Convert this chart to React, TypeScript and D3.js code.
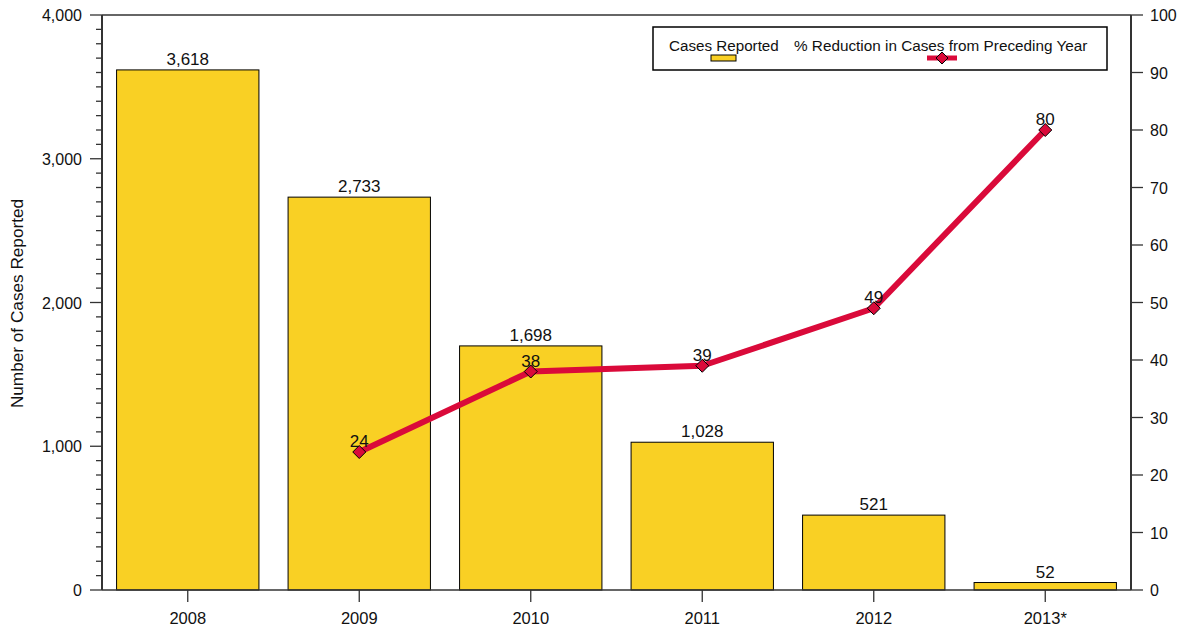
import React from "react";
import * as d3 from "d3";

const years = ["2008", "2009", "2010", "2011", "2012", "2013*"];
const cases = [3618, 2733, 1698, 1028, 521, 52];
const reductionYears = ["2009", "2010", "2011", "2012", "2013*"];
const reduction = [24, 38, 39, 49, 80];
const leftTicks = [0, 1000, 2000, 3000, 4000];
const rightTicks = [0, 10, 20, 30, 40, 50, 60, 70, 80, 90, 100];

const W = 1186, H = 634;
const M = { left: 102, right: 1131, top: 15, bottom: 590 };
const YELLOW = "#F9D024";
const RED = "#DA0A3A";
const AXIS = "#333";
const FONT = "'Liberation Sans', Arial, sans-serif";

export default function App() {
  const x = d3.scaleBand<string>().domain(years).range([M.left, M.right]).paddingInner(0.17).paddingOuter(0.085);
  const yL = d3.scaleLinear().domain([0, 4000]).range([M.bottom, M.top]);
  const yR = d3.scaleLinear().domain([0, 100]).range([M.bottom, M.top]);
  const cx = (k: string) => (x(k) as number) + x.bandwidth() / 2;
  const minor = d3.range(0, 4001, 100);
  const line = d3.line<number>().x((_, i) => cx(reductionYears[i])).y((d) => yR(d));
  const fmt = d3.format(",");
  const diamond = (px: number, py: number, r: number) =>
    `M${px},${py - r}L${px + r},${py}L${px},${py + r}L${px - r},${py}Z`;

  return (
    <svg width={W} height={H} style={{ position: "absolute", left: 0, top: 0, fontFamily: FONT }}>
      <rect width={W} height={H} fill="#fff" />
      {/* bars */}
      {cases.map((v, i) => (
        <g key={years[i]}>
          <rect x={x(years[i])} y={yL(v)} width={x.bandwidth()} height={yL(0) - yL(v)} fill={YELLOW} stroke="#000" strokeWidth={1} />
          <text x={cx(years[i])} y={yL(v) - 5} textAnchor="middle" fontSize={17} fill="#111">{fmt(v)}</text>
        </g>
      ))}
      {/* frame lines */}
      <line x1={M.left} x2={M.right} y1={M.top} y2={M.top} stroke={AXIS} strokeWidth={1.5} />
      <line x1={M.left} x2={M.right} y1={M.bottom} y2={M.bottom} stroke={AXIS} strokeWidth={1.5} />
      <line x1={M.left} x2={M.left} y1={M.top} y2={M.bottom} stroke={AXIS} strokeWidth={2} />
      <line x1={M.right} x2={M.right} y1={M.top} y2={M.bottom} stroke={AXIS} strokeWidth={2} />
      {/* left ticks */}
      {minor.map((t) => (
        <line key={"m" + t} x1={t % 1000 === 0 ? M.left - 12 : M.left - 6} x2={M.left} y1={yL(t)} y2={yL(t)} stroke={AXIS} strokeWidth={1.3} />
      ))}
      {leftTicks.map((t) => (
        <text key={"l" + t} x={M.left - 20} y={yL(t) + 6} textAnchor="end" fontSize={16} fill="#111">{fmt(t)}</text>
      ))}
      {/* right ticks */}
      {rightTicks.map((t) => (
        <g key={"r" + t}>
          <line x1={M.right} x2={M.right + 12} y1={yR(t)} y2={yR(t)} stroke={AXIS} strokeWidth={1.3} />
          <text x={M.right + 19} y={yR(t) + 6} fontSize={16} fill="#111">{t}</text>
        </g>
      ))}
      {/* x ticks */}
      {years.map((k) => (
        <g key={"x" + k}>
          <line x1={cx(k)} x2={cx(k)} y1={M.bottom} y2={M.bottom + 12} stroke={AXIS} strokeWidth={1.3} />
          <text x={cx(k)} y={M.bottom + 34} textAnchor="middle" fontSize={16.5} fill="#111">{k}</text>
        </g>
      ))}
      {/* y label */}
      <text transform={`translate(23,${(M.top + M.bottom) / 2 + 1}) rotate(-90)`} textAnchor="middle" fontSize={17.2} fill="#111">Number of Cases Reported</text>
      {/* line */}
      <path d={line(reduction) as string} fill="none" stroke={RED} strokeWidth={6} strokeLinejoin="round" />
      {reduction.map((v, i) => (
        <g key={"p" + i}>
          <path d={diamond(cx(reductionYears[i]), yR(v), 6.5)} fill={RED} stroke="#000" strokeWidth={1} />
          <text x={cx(reductionYears[i])} y={yR(v) - 5} textAnchor="middle" fontSize={17} fill="#111">{v}</text>
        </g>
      ))}
      {/* legend */}
      <rect x={653} y={27} width={454} height={43} fill="#fff" stroke="#000" strokeWidth={1.5} />
      <text x={669} y={51} fontSize={15.2} fill="#111">Cases Reported</text>
      <rect x={711} y={55} width={25} height={6} fill={YELLOW} stroke="#000" strokeWidth={1} />
      <text x={794} y={51} fontSize={15.3} fill="#111">% Reduction in Cases from Preceding Year</text>
      <line x1={927} x2={957} y1={58} y2={58} stroke={RED} strokeWidth={5} />
      <path d={diamond(942, 58, 6)} fill={RED} stroke="#000" strokeWidth={1} />
    </svg>
  );
}
